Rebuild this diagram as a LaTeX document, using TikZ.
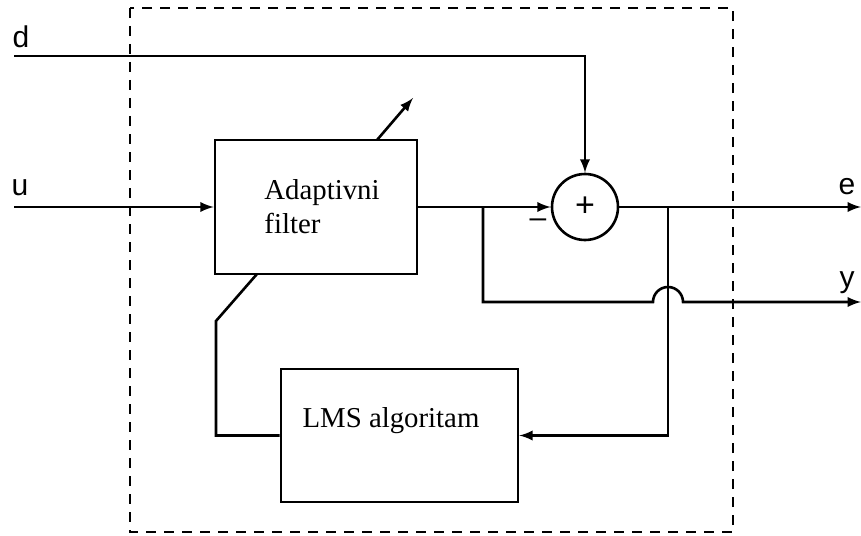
\documentclass[tikz,border=0pt]{standalone}
\usepackage{fontspec}
\setmainfont{Liberation Serif}
\newfontfamily\labfont{Liberation Sans}
\usepackage{tikz}
\usetikzlibrary{arrows,positioning,calc}

\begin{document}
\begin{tikzpicture}[x=0.5pt,y=-0.5pt,>=latex,line width=1.3pt,
    block/.style={draw,rectangle,inner sep=0pt,font=\fontsize{14.4}{17}\selectfont},
    sumnode/.style={draw,circle,minimum size=33pt,inner sep=0pt,font=\labfont\fontsize{17}{17}\selectfont},
    sig/.style={font=\labfont\fontsize{15}{15}\selectfont}]
                    \useasboundingbox (0,0) rectangle (861,535);
                    % blocks
                    \node[block,minimum width=101pt,minimum height=67pt,align=left] (filt) at (316,207) {\hspace*{6pt}Adaptivni\\\hspace*{6pt}filter};
                    \node[block,minimum width=118.5pt,minimum height=66.5pt] (lms) at (399.5,435.5) {};
                    \node[font=\fontsize{14.4}{17}\selectfont] (lmstxt) at (391,421) {LMS algoritam};
                    \node[sumnode] (sum) at (585,207) {+};
                    % signal ends
                    \coordinate (din) at (14,56);
                    \coordinate (uin) at (14,207);
                    \coordinate (eout) at (861,207);
                    \coordinate (yout) at (861,302);
                    \coordinate (br1) at (483,207);
                    \coordinate (br2) at (668,207);
                    \coordinate (kink) at (216,321);
                    \coordinate (fb) at (257,274);
                    \coordinate (adbase) at (377,140);
                    \coordinate (adtip) at (413,98);
                    % labels
                    \node[sig] (dl) at (21,37) {d};
                    \node[sig] (ul) at (20,188) {u};
                    \node[sig] (el) at (847,187) {e};
                    \node[sig] (yl) at (847,283) {y};
                    \node[sig] (minus) at (538,223) {\textendash};
                    % connections
                    \draw[->] (din) -| (sum.north);
                    \draw[->] (uin) -- (filt.west);
                    \draw[->] (filt.east) -- (sum.west);
                    \draw[->] (sum.east) -- (eout);
                    \draw[->] (br1) |- (653,302) arc[start angle=180,end angle=0,radius=7.5pt] -- (yout);
                    \draw[->] (br2) |- (lms.east);
                    \draw (lms.west) -| (kink) -- (fb);
                    \draw[->] (adbase) -- (adtip);
                    % system boundary
                    \draw[dashed,line width=1.4pt,dash pattern=on 5pt off 4pt] (130,8) rectangle (733,532);
                \end{tikzpicture}
\end{document}
